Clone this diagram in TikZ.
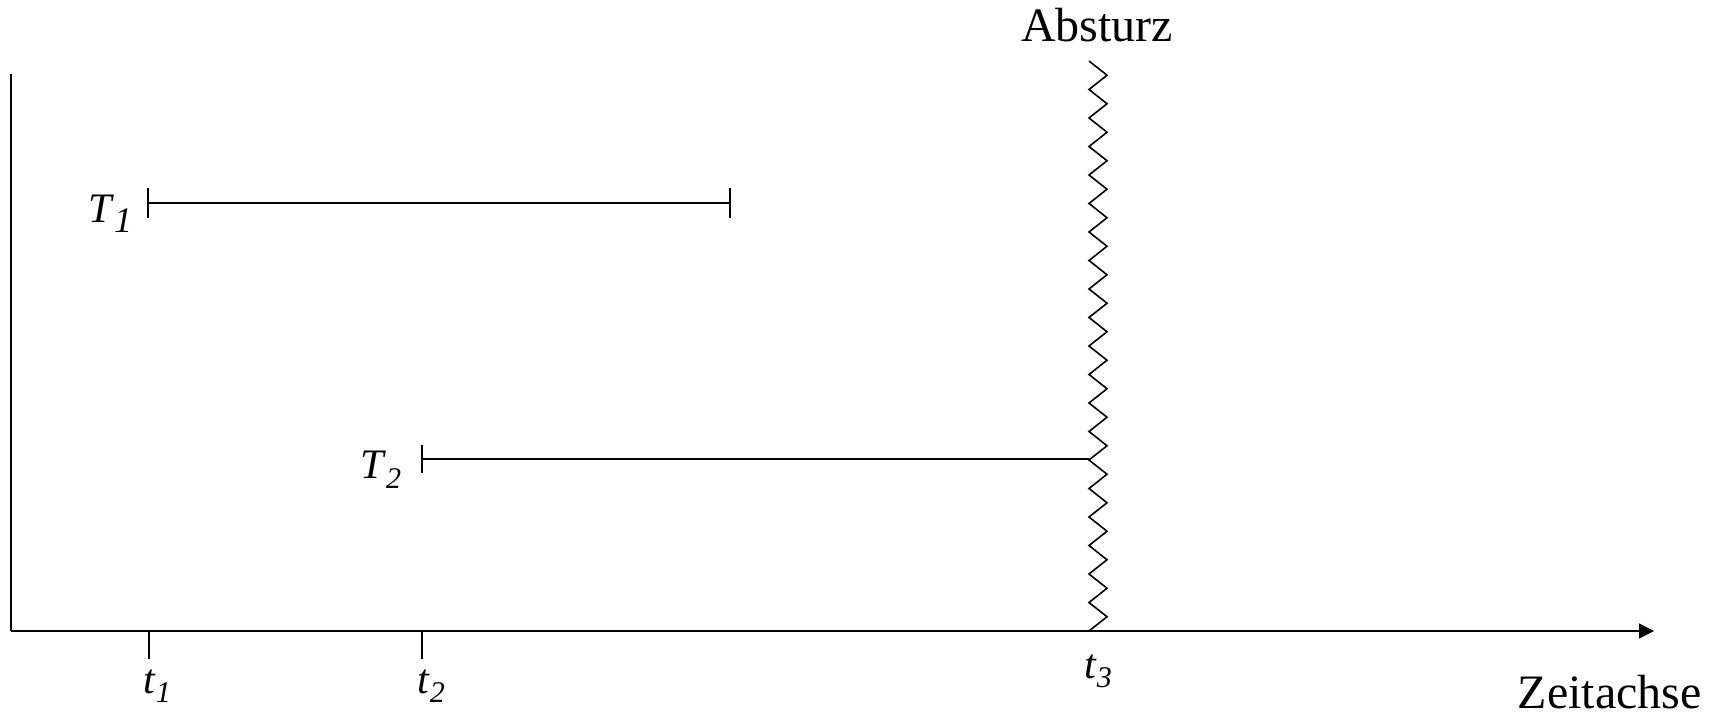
\documentclass[tikz,border=0pt]{standalone}
\usepackage{fontspec}
\setmainfont{Liberation Serif}
\usetikzlibrary{arrows.meta}
\newcommand{\lbl}[3]{\textit{#1}\raisebox{-5pt}{\fontsize{#3}{#3}\selectfont\textit{#2}}}
\begin{document}
\begin{tikzpicture}[x=0.5pt,y=-0.5pt,
  line/.style={line width=0.8pt},
  big/.style={font=\fontsize{24pt}{28pt}\selectfont, inner sep=0pt},
  lab/.style={font=\fontsize{21pt}{24pt}\selectfont, inner sep=0pt, anchor=base west}]
\useasboundingbox (0,0) rectangle (1715,716);
% axes
\coordinate (origin) at (11,631);
\coordinate (ytop) at (11,74);
\coordinate (xend) at (1654,631);
\draw[line] (ytop) -- (origin);
\draw[line,-{Triangle[length=7.5pt,width=7.5pt]}] (origin) -- (xend);
% ticks
\coordinate (t1) at (149,631);
\coordinate (t2) at (422,631);
\coordinate (t3) at (1089,631);
\draw[line] (t1) -- ++(0,28);
\draw[line] (t2) -- ++(0,28);
% crash zigzag
\coordinate (crashtop) at (1089,61);
\draw[line,line join=miter] (t3) \foreach \i in {1,...,20} { -- ++(18,-14.25) -- ++(-18,-14.25) };
\node[big, anchor=base] (absturz) at (1097,42) {Absturz};
% tasks
\coordinate (T1s) at (148,203);
\coordinate (T1e) at (730,203);
\draw[line] (T1s) -- (T1e);
\draw[line] (T1s) ++(0,-15) -- ++(0,30);
\draw[line] (T1e) ++(0,-15) -- ++(0,30);
\coordinate (T2s) at (422,459);
\coordinate (T2e) at (1089,459);
\draw[line] (T2s) -- (T2e);
\draw[line] (T2s) ++(0,-14) -- ++(0,28);
% labels
\node[lab] (lT1) at (88,223) {\lbl{T}{1}{18pt}};
\node[lab] (lT2) at (360,479) {\lbl{T}{2}{15pt}};
\node[lab] (lt1) at (143,693) {\lbl{t}{1}{15pt}};
\node[lab] (lt2) at (417,693) {\lbl{t}{2}{15pt}};
\node[lab] (lt3) at (1084,678) {\lbl{t}{3}{15pt}};
\node[big, anchor=base east] (zeit) at (1702,709) {Zeitachse};
\end{tikzpicture}
\end{document}
